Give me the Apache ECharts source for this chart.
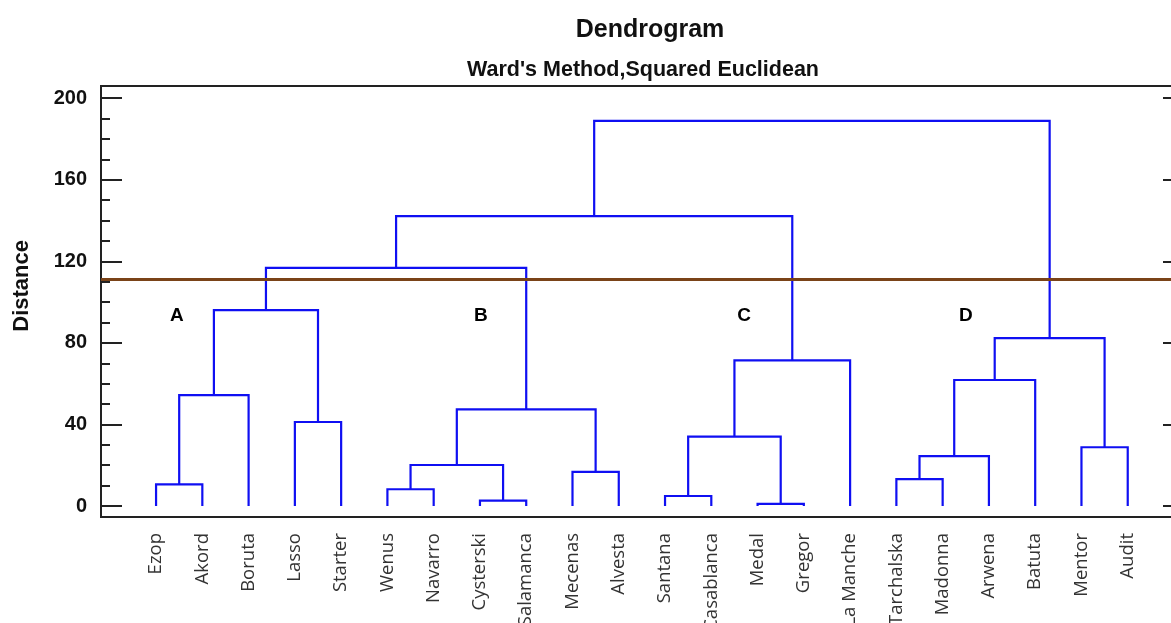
<!DOCTYPE html>
<html>
<head>
<meta charset="utf-8">
<script src="https://cdn.jsdelivr.net/npm/echarts@6/dist/echarts.min.js"></script>
<style>html,body{margin:0;padding:0;background:#fff}#c{width:1171px;height:623px}</style>
</head>
<body>
<div id="c"></div>
<script>
// ---- data ----
const leaves = ['Ezop','Akord','Boruta','Lasso','Starter','Wenus','Navarro','Cysterski','Salamanca','Mecenas','Alvesta','Santana','Casablanca','Medal','Gregor','La Manche','Tarchalska','Madonna','Arwena','Batuta','Mentor','Audit'];
// linkage rows: node id = leaves.length + row index
const mergeLeft   = [0, 22, 3, 23, 5, 7, 26, 9, 28, 25, 11, 13, 32, 34, 31, 16, 37, 38, 20, 39, 36];
const mergeRight  = [1, 2, 4, 24, 6, 8, 27, 10, 29, 30, 12, 14, 33, 15, 35, 17, 18, 19, 21, 40, 41];
const mergeHeight = [10.6, 54.4, 41.2, 96.1, 8.2, 2.6, 20.1, 16.7, 47.4, 116.8, 4.9, 1.0, 34.0, 71.4, 142.2, 13.2, 24.5, 61.8, 28.8, 82.3, 188.9];
const cutHeight = 111.3;
const groupNames = ['A','B','C','D'];
const groupX = [0.45, 7.02, 12.71, 17.5];
const groupY = [93.1, 93.1, 93.1, 93.1];
const yTickLabels = [0, 40, 80, 120, 160, 200];
const yMinorTicks = [0,10,20,30,40,50,60,70,80,90,100,110,120,130,140,150,160,170,180,190,200];

// ---- build links from linkage ----
const n = leaves.length;
const nodeX = leaves.map((_, i) => i);
const nodeH = leaves.map(() => 0);
const links = [];
for (let r = 0; r < mergeLeft.length; r++) {
  const a = mergeLeft[r], b = mergeRight[r], h = mergeHeight[r];
  links.push([nodeX[a], nodeH[a], nodeX[b], nodeH[b], h]);
  nodeX[n + r] = (nodeX[a] + nodeX[b]) / 2;
  nodeH[n + r] = h;
}

const YMIN = -5.4, YMAX = 206;
const chart = echarts.init(document.getElementById('c'), null, {renderer: 'canvas'});
const yBase = {type: 'value', min: YMIN, max: YMAX, splitLine: {show: false}, axisLine: {show: false, onZero: false}};
chart.setOption({
  animation: false,
  backgroundColor: '#fff',
  title: [
    {text: 'Dendrogram', left: 645, top: 13, textAlign: 'center',
     textStyle: {fontFamily: 'Liberation Sans', fontWeight: 'bold', fontSize: 25, color: '#111'}},
    {text: "Ward's Method,Squared Euclidean", left: 638, top: 54, textAlign: 'center',
     textStyle: {fontFamily: 'Liberation Sans', fontWeight: 'bold', fontSize: 21.5, color: '#111'}}
  ],
  grid: {left: 101, right: -3, top: 86, bottom: 106, show: true, borderColor: '#222', borderWidth: 2,
         backgroundColor: 'transparent', containLabel: false, outerBoundsMode: 'none'},
  xAxis: {
    type: 'value', min: -1.19, max: 22.0,
    axisLine: {show: false, onZero: false}, axisTick: {show: false}, splitLine: {show: false},
    axisLabel: {
      customValues: leaves.map((_, i) => i),
      formatter: v => leaves[Math.round(v)],
      rotate: 90, margin: 16, fontSize: 18.5, fontFamily: 'Open Sans', color: '#333'
    }
  },
  yAxis: [
    Object.assign({}, yBase, {
      position: 'left',
      axisTick: {show: true, inside: true, length: 21, customValues: yTickLabels, lineStyle: {color: '#222', width: 2}},
      axisLabel: {customValues: yTickLabels, fontFamily: 'Liberation Sans', fontWeight: 'bold', fontSize: 20, color: '#111', margin: 14}
    }),
    Object.assign({}, yBase, {
      position: 'left',
      axisTick: {show: true, inside: true, length: 9, customValues: yMinorTicks, lineStyle: {color: '#222', width: 2}},
      axisLabel: {show: false}
    }),
    Object.assign({}, yBase, {
      position: 'right',
      axisTick: {show: true, inside: true, length: 11, customValues: yTickLabels, lineStyle: {color: '#222', width: 2}},
      axisLabel: {show: false}
    })
  ],
  graphic: [{
    type: 'text', left: 11, top: 240, rotation: Math.PI / 2,
    style: {text: 'Distance', font: 'bold 22px "Liberation Sans"', fill: '#111'}
  }],
  series: [
    {
      type: 'custom',
      coordinateSystem: 'cartesian2d',
      data: links,
      clip: false,
      renderItem: function (params, api) {
        const p1 = api.coord([api.value(0), api.value(1)]);
        const p2 = api.coord([api.value(0), api.value(4)]);
        const p3 = api.coord([api.value(2), api.value(4)]);
        const p4 = api.coord([api.value(2), api.value(3)]);
        return {type: 'polyline', shape: {points: [p1, p2, p3, p4]},
                style: {stroke: '#0f0ff2', lineWidth: 2.2, fill: null}};
      },
      encode: {x: [0, 2], y: [1, 3, 4]},
      markLine: {
        silent: true, symbol: 'none', label: {show: false},
        lineStyle: {color: '#7a4318', width: 3, type: 'solid'},
        data: [{yAxis: cutHeight}]
      },
      z: 3
    },
    {
      type: 'custom',
      coordinateSystem: 'cartesian2d',
      data: groupX.map((x, i) => [x, groupY[i], i]),
      encode: {x: 0, y: 1},
      renderItem: function (params, api) {
        const p = api.coord([api.value(0), api.value(1)]);
        return {type: 'text', x: p[0], y: p[1],
                style: {text: groupNames[api.value(2)], font: 'bold 19px "Liberation Sans"', fill: '#000', align: 'center', verticalAlign: 'middle'}};
      },
      z: 4
    }
  ]
});
</script>
</body>
</html>
